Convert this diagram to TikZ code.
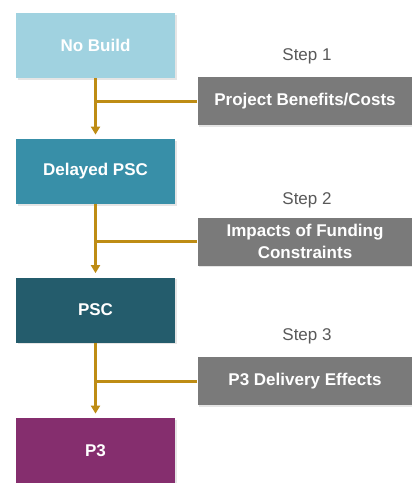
\documentclass[tikz,border=0pt]{standalone}
\usepackage{fontspec}
\setmainfont{Liberation Sans}
\usetikzlibrary{arrows.meta,shadows}
\definecolor{nobuildc}{HTML}{A0D2E0}
\definecolor{delayc}{HTML}{388FA8}
\definecolor{pscc}{HTML}{245C6C}
\definecolor{ppp}{HTML}{852E6E}
\definecolor{stepgrey}{HTML}{7A7A7A}
\definecolor{gold}{HTML}{BE8C14}
\tikzset{
  alt/.style={minimum width=79.5pt,minimum height=32.5pt,text=white,
    font=\fontsize{8.5}{10}\selectfont\bfseries,
    drop shadow={opacity=.2,shadow xshift=.8pt,shadow yshift=-.8pt}},
  stepbox/.style={fill=stepgrey,minimum width=107.5pt,minimum height=24pt,
    text=white,align=center,font=\fontsize{8.5}{11}\selectfont\bfseries,
    drop shadow={opacity=.2,shadow xshift=.8pt,shadow yshift=-.8pt}},
  steplbl/.style={text=black!65,font=\fontsize{8.5}{10}\selectfont},
  flow/.style={draw=gold,line width=1.5pt,-{Triangle[width=4.5pt,length=4pt]},shorten >=2pt},
  branch/.style={draw=gold,line width=1.5pt}
}
\begin{document}
\begin{tikzpicture}[x=.5pt,y=-.5pt]
\clip (0,0) rectangle (412,483);
\fill[white] (0,0) rectangle (412,483);
% alternatives
\node[alt,fill=nobuildc] (nobuild) at (95.5,45.5) {No Build};
\node[alt,fill=delayc] (delayed) at (95.5,171.5) {Delayed PSC};
\node[alt,fill=pscc] (psc) at (95.5,310) {PSC};
\node[alt,fill=ppp] (p3) at (95.5,450.5) {P3};
% steps
\node[steplbl] (s1) at (307,56) {Step 1};
\node[steplbl] (s2) at (307,200) {Step 2};
\node[steplbl] (s3) at (307,336) {Step 3};
\node[stepbox] (benefits) at (305,101) {Project Benefits/Costs};
\node[stepbox] (funding) at (305,241.5) {Impacts of Funding\\Constraints};
\node[stepbox] (delivery) at (305,381) {P3 Delivery Effects};
% connectors
\draw[flow] (nobuild) -- (delayed);
\draw[flow] (delayed) -- (psc);
\draw[flow] (psc) -- (p3);
\draw[branch] (benefits.west) -- (benefits.west -| nobuild.south);
\draw[branch] (funding.west) -- (funding.west -| delayed.south);
\draw[branch] (delivery.west) -- (delivery.west -| psc.south);
\end{tikzpicture}
\end{document}
